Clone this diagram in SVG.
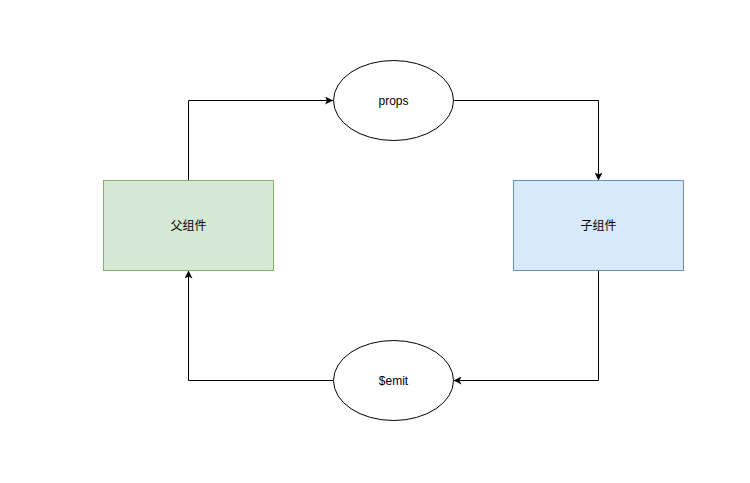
<svg xmlns="http://www.w3.org/2000/svg" width="750" height="483" viewBox="0 0 750 483">
<style>
.lbl{font-family:"Liberation Sans","Noto Sans CJK SC",sans-serif;font-size:12px;fill:#000;text-anchor:middle;dominant-baseline:central}
.edge{fill:none;stroke:#000;stroke-width:1}
.ell{fill:#fff;stroke:#000;stroke-width:1}
</style>
<defs>
<marker id="arr" viewBox="0 0 10 10" refX="10" refY="5" markerWidth="8" markerHeight="8" markerUnits="userSpaceOnUse" orient="auto">
<path d="M0,0 L10,5 L0,10 L2.5,5 Z" fill="#000"/>
</marker>
</defs>
<rect width="750" height="483" fill="#fff"/>
<g id="connectors">
<path class="edge" d="M188.5,180.5 V100.5 H333" marker-end="url(#arr)"/>
<path class="edge" d="M453.5,100.5 H598.5 V180.5" marker-end="url(#arr)"/>
<path class="edge" d="M598.5,270.5 V380.5 H453.5" marker-end="url(#arr)"/>
<path class="edge" d="M333,380.5 H188.5 V270.5" marker-end="url(#arr)"/>
</g>
<g id="parent">
<rect x="103.5" y="180.5" width="170" height="90" fill="#d5e8d4" stroke="#82b366"/>
<text class="lbl" x="188.5" y="225.5">父组件</text>
</g>
<g id="child">
<rect x="513.5" y="180.5" width="170" height="90" fill="#dae8fc" stroke="#6c8ebf"/>
<text class="lbl" x="598.5" y="225.5">子组件</text>
</g>
<g id="props">
<ellipse class="ell" cx="393.5" cy="100.5" rx="60" ry="40"/>
<text class="lbl" x="393.5" y="100.5">props</text>
</g>
<g id="emit">
<ellipse class="ell" cx="393.5" cy="380.5" rx="60" ry="40"/>
<text class="lbl" x="393.5" y="380.5">$emit</text>
</g>
</svg>
